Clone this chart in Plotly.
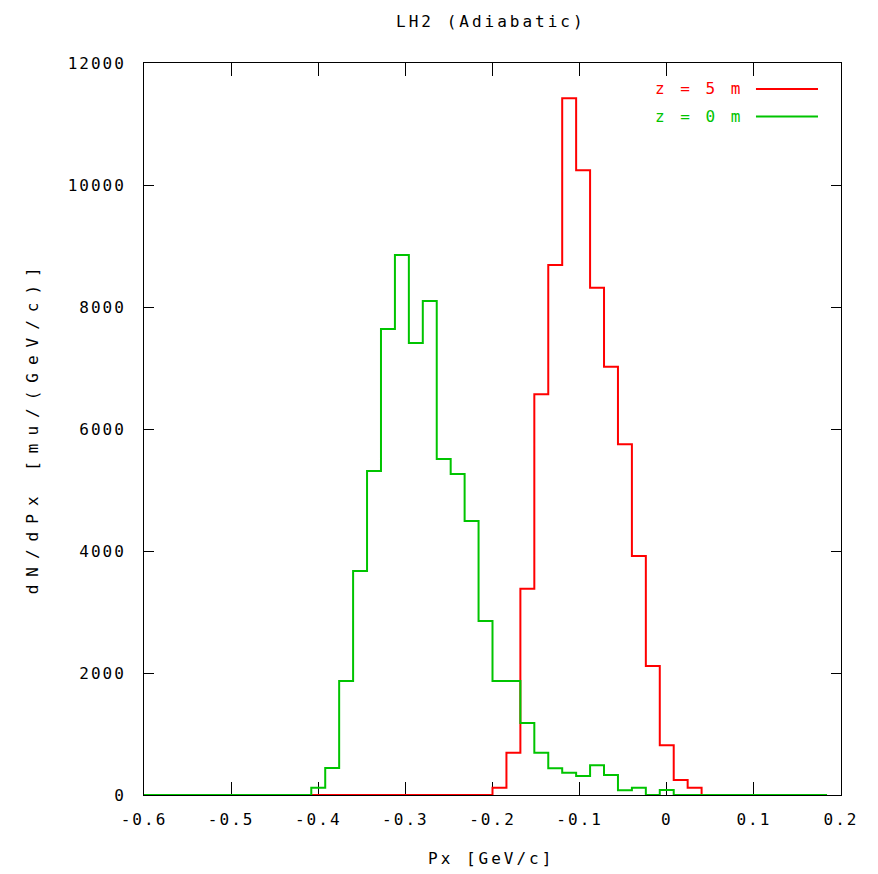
import plotly.graph_objects as go

# Histogram binning: 50 bins of width 0.016 GeV/c from -0.6 to 0.2
bin_start = -0.6
bin_width = 0.016
n_bins = 50
bin_edges = [round(bin_start + bin_width * i, 4) for i in range(n_bins + 1)]

# z = 0 m (green) counts, bins 0..48
green_counts = [0, 0, 0, 0, 0, 0, 0, 0, 0, 0, 0, 0,
                120, 443, 1869, 3672, 5311, 7639, 8852, 7410, 8098, 5508,
                5262, 4492, 2852, 1869, 1869, 1180, 693, 437, 366, 311,
                486, 328, 79, 120, 0, 80,
                0, 0, 0, 0, 0, 0, 0, 0, 0, 0, 0]
green_first_bin = 0

# z = 5 m (red) counts, bins 12..39
red_counts = [0, 0, 0, 0, 0, 0, 0, 0, 0, 0, 0, 0, 0,
              120, 693, 3383, 6568, 8689, 11421, 10240, 8317, 7022,
              5749, 3918, 2115, 814, 246, 120]
red_first_bin = 12

x_ticks = [-0.6, -0.5, -0.4, -0.3, -0.2, -0.1, 0, 0.1, 0.2]
x_tick_labels = ["-0.6", "-0.5", "-0.4", "-0.3", "-0.2", "-0.1", "0", "0.1", "0.2"]
y_ticks = [0, 2000, 4000, 6000, 8000, 10000, 12000]
y_tick_labels = ["0", "2000", "4000", "6000", "8000", "10000", "12000"]

RED = "#ff0000"
GREEN = "#00c400"
FONT = "DejaVu Sans Mono"
FS = 16


def spaced(text, px=2):
    return '<span style="letter-spacing:%dpx">%s</span>' % (px, text)


def step_xy(counts, first_bin):
    xs = [bin_edges[first_bin + i] for i in range(len(counts))]
    ys = list(counts)
    xs.append(bin_edges[first_bin + len(counts)])
    ys.append(0)
    return xs, ys


fig = go.Figure()
gx, gy = step_xy(green_counts, green_first_bin)
rx, ry = step_xy(red_counts, red_first_bin)
fig.add_trace(go.Scatter(x=rx, y=ry, mode="lines", line=dict(color=RED, width=2, shape="hv"),
                         name="z = 5 m", showlegend=False))
fig.add_trace(go.Scatter(x=gx, y=gy, mode="lines", line=dict(color=GREEN, width=2, shape="hv"),
                         name="z = 0 m", showlegend=False))

# gnuplot-style legend (text right-aligned, sample line on the right)
for i, (label, col) in enumerate([("z = 5 m", RED), ("z = 0 m", GREEN)]):
    yy = 0.9645 - i * 0.0375
    fig.add_annotation(xref="paper", yref="paper", x=0.862, y=yy, text=spaced(label, 3), showarrow=False,
                       xanchor="right", yanchor="middle", font=dict(family=FONT, size=FS, color=col))
    fig.add_shape(type="line", xref="paper", yref="paper", x0=0.878, x1=0.967, y0=yy, y1=yy,
                  line=dict(color=col, width=2))

# axis titles
fig.add_annotation(xref="paper", yref="paper", x=0.498, y=-0.0874, text=spaced("Px [GeV/c]", 3),
                   showarrow=False, xanchor="center", yanchor="middle",
                   font=dict(family=FONT, size=FS, color="black"))
fig.add_annotation(xref="paper", yref="paper", x=-0.16, y=0.503, text=spaced("dN/dPx [mu/(GeV/c)]", 8),
                   showarrow=False, xanchor="center", yanchor="middle", textangle=-90,
                   font=dict(family=FONT, size=FS, color="black"))

axis_common = dict(showgrid=False, zeroline=False, showline=True, linecolor="black", linewidth=1,
                   mirror="allticks", ticks="inside", tickcolor="black", tickwidth=1,
                   layer="below traces",
                   tickfont=dict(family=FONT, size=FS, color="black"))

fig.update_layout(
    width=870, height=866,
    paper_bgcolor="white", plot_bgcolor="white",
    margin=dict(l=136, r=37, t=55, b=79),
    title=dict(text=spaced("LH2 (Adiabatic)", 3), x=0.555, xref="container", xanchor="center",
               y=0.985, yanchor="middle",
               font=dict(family=FONT, size=FS, color="black")),
    xaxis=dict(range=[-0.6, 0.2], tickvals=x_ticks, ticktext=[spaced(t, 2) for t in x_tick_labels],
               ticklabelstandoff=10, ticklen=13, **axis_common),
    yaxis=dict(range=[0, 12000], tickvals=y_ticks, ticktext=[spaced(t, 2) for t in y_tick_labels],
               ticklabelstandoff=14, ticklen=10, **axis_common),
)

fig.write_html("out.html")
